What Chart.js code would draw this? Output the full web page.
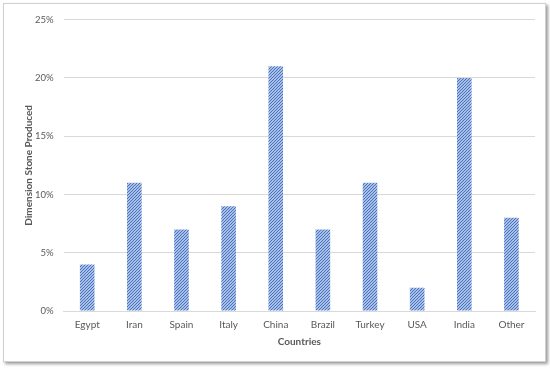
<!DOCTYPE html>
<html>
<head>
<meta charset="utf-8">
<script src="https://cdn.jsdelivr.net/npm/chart.js@4"></script>
<style>
  body { margin: 0; background: #fff; }
  #marco {
    position: absolute; left: 3px; top: 3px; width: 541px; height: 357px;
    border: 1px solid #d0d0d0; box-shadow: 2px 2px 3px #9a9a9a; background: #fff;
  }
</style>
</head>
<body>
<div id="marco"><canvas id="piedraChart" width="541" height="357"></canvas></div>
<script>
// Datos (porcentaje de piedra producida por pais)
const paises = ['Egypt', 'Iran', 'Spain', 'Italy', 'China', 'Brazil', 'Turkey', 'USA', 'India', 'Other'];
const produccion = [4, 11, 7, 9, 21, 7, 11, 2, 20, 8];
const ticksY = [0, 5, 10, 15, 20, 25];

// Rayado diagonal como el relleno de Excel
function rayado() {
    const c = document.createElement('canvas');
    c.width = 3; c.height = 3;
    const g = c.getContext('2d');
    g.fillStyle = '#ffffff';
    g.fillRect(0, 0, 3, 3);
    g.strokeStyle = '#4472c4';
    g.lineWidth = 1.3;
    g.beginPath();
    g.moveTo(0, 3); g.lineTo(3, 0);
    g.moveTo(-1, 1); g.lineTo(1, -1);
    g.moveTo(2, 4); g.lineTo(4, 2);
    g.stroke();
    return g.createPattern(c, 'repeat');
}

const ctx = document.getElementById('piedraChart').getContext('2d');
const fuente = "Lato, 'Open Sans', sans-serif";

const piedraChart = new Chart(ctx, {
    type: 'bar',
    data: {
        labels: paises,
        datasets: [{
            data: produccion,
            backgroundColor: rayado(),
            borderWidth: 0,
            barPercentage: 0.62,
            categoryPercentage: 0.5
        }]
    },
    options: {
        responsive: false,
        animation: false,
        layout: { padding: { left: 19, right: 10, top: 6, bottom: 13 } },
        plugins: { legend: { display: false }, tooltip: { enabled: false } },
        scales: {
            x: {
                grid: { display: false, drawTicks: false },
                border: { color: '#d9d9d9' },
                ticks: { color: '#595959', font: { family: fuente, size: 10 }, padding: 8 },
                title: { display: true, text: 'Countries', color: '#595959', font: { family: fuente, size: 10, weight: 'bold' }, padding: { top: -3, bottom: 0 } }
            },
            y: {
                min: 0, max: 25,
                afterBuildTicks: (s) => { s.ticks = ticksY.map(v => ({ value: v })); },
                grid: { color: '#d9d9d9', drawTicks: false },
                border: { display: false },
                ticks: { color: '#595959', font: { family: fuente, size: 9.5 }, padding: 10, callback: v => v + '%' },
                title: { display: true, text: 'Dimension Stone Produced', color: '#595959', font: { family: fuente, size: 10, weight: 'bold' }, padding: { top: 0, bottom: -10 } }
            }
        }
    }
});
</script>
</body>
</html>
